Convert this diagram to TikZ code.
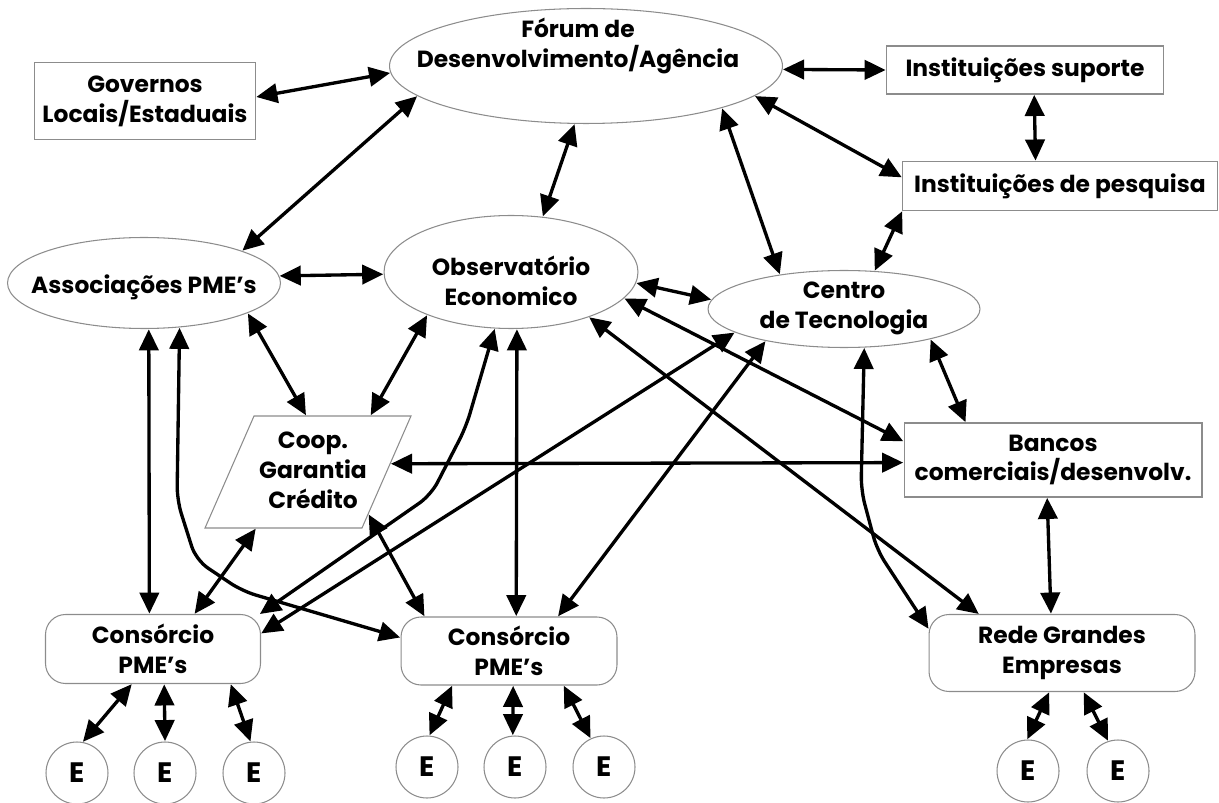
\documentclass[tikz,border=0pt]{standalone}
\usepackage{fontspec}
\setmainfont{Poppins}
\usetikzlibrary{arrows.meta}
\usetikzlibrary{shapes.geometric}
\usetikzlibrary{positioning}

\tikzset{
  box/.style={draw=black!45, line width=0.6pt, inner sep=0pt, outer sep=0pt, align=center},
  oval/.style={box, ellipse},
  rbox/.style={box, rounded corners=0.4cm},
  slanted/.style={box, xslant=0.4375},
  ent/.style={box, circle, minimum size=1.24cm, font=\fontsize{16}{18}\selectfont\bfseries},
  lbl/.style={align=center, inner sep=0pt},
  link/.style={line width=1.9pt, {Triangle[length=12pt,width=11pt]}-{Triangle[length=12pt,width=11pt]},
    shorten <=0.5pt, shorten >=0.5pt},
}

\begin{document}
\begin{tikzpicture}[x=0.02cm, y=-0.02cm, font=\fontsize{13.3}{17}\selectfont\bfseries]
  \useasboundingbox (0,0) rectangle (1219,803);

  % upper row
  \node[box, minimum width=4.42cm, minimum height=1.54cm] (gov) at (145,101) {Governos\\Locais/Estaduais};
  \node[oval, minimum width=7.86cm, minimum height=2.3cm] (forum) at (586,66) {};
  \node[lbl] (forumtxt) at (578,46) {Fórum de\\Desenvolvimento/Agência};
  \node[box, minimum width=5.54cm, minimum height=0.96cm] (sup) at (1025,70) {Instituições suporte};
  \node[box, minimum width=6.3cm, minimum height=0.98cm] (pesq) at (1060,186) {Instituições de pesquisa};

  % middle
  \node[oval, minimum width=5.46cm, minimum height=1.82cm] (assoc) at (144,283) {};
  \node[lbl] (assoctxt) at (144,287) {Associações PME’s};
  \node[oval, minimum width=5.08cm, minimum height=2.26cm] (obs) at (511,272) {};
  \node[lbl] (obstxt) at (511,281) {Observatório\\Economico};
  \node[oval, minimum width=5.44cm, minimum height=1.54cm] (centro) at (844,309) {};
  \node[lbl] (centrotxt) at (844,308) {Centro\\de Tecnologia};
  \begin{scope}[shift={(308,472)}]
    \node[slanted, minimum width=3.14cm, minimum height=2.24cm] (coop) at (0,0) {};
  \end{scope}
  \node[lbl] (cooptxt) at (313,470) {Coop.\\Garantia\\Crédito};
  \node[box, minimum width=5.96cm, minimum height=1.48cm] (bancos) at (1053,460) {Bancos\\comerciais/desenvolv.};

  % lower row
  \node[rbox, minimum width=4.3cm, minimum height=1.38cm] (cons1) at (153,649) {Consórcio\\PME’s};
  \node[rbox, minimum width=4.32cm, minimum height=1.36cm] (cons2) at (509,651) {Consórcio\\PME’s};
  \node[rbox, minimum width=5.32cm, minimum height=1.54cm] (rede) at (1062,653) {Rede Grandes\\Empresas};
  \node[ent] (e1) at (77,773) {E};
  \node[ent] (e2) at (165,773) {E};
  \node[ent] (e3) at (254,773) {E};
  \node[ent] (e4) at (427,767) {E};
  \node[ent] (e5) at (515,767) {E};
  \node[ent] (e6) at (604,767) {E};
  \node[ent] (e7) at (1028,771) {E};
  \node[ent] (e8) at (1118,771) {E};

  % connectors
  \draw[link] (gov.2) -- (forum.182);
  \draw[link] (forum.-1) -- (sup.180);
  \draw[link] (sup.291) -- (pesq.135);
  \draw[link] (forum.350) -- (pesq.177);
  \draw[link] (forum.343) -- (centro.152);
  \draw[link] (pesq.south west) -- (centro.51);
  \draw[link] (forum.259) -- (obs.60);
  \draw[link] (forum.190) -- (assoc.18);
  \draw[link] (assoc.3) -- (obs.181);
  \draw[link] (obs.355) -- (centro.176);
  \draw[link] (assoc.344) -- (coop.115);
  \draw[link] (obs.207) -- (coop.56);
  \draw[link] (assoc.276) -- (cons1.96);
  \draw[link, rounded corners=8pt] (assoc.309) -- (177,500) -- (196,560) -- (242,591) -- (cons2.173);
  \draw[link] (coop.244) -- (cons1.40);
  \draw[link] (coop.332) -- (cons2.158);
  \draw[link] (coop.6) -- (bancos.181);
  \draw[link] (obs.276) -- (cons2.78);
  \draw[link, rounded corners=8pt] (obs.254) -- (466,427) -- (431,495) -- (cons1.18);
  \draw[link] (centro.192) -- (cons1.8);
  \draw[link] (centro.202) -- (cons2.35);
  \draw[link] (obs.330) -- (rede.155);
  \draw[link] (obs.347) -- (bancos.173);
  \draw[link, rounded corners=8pt] (centro.298) -- (861,490) -- (877,550) -- (rede.170);
  \draw[link] (centro.341) -- (bancos.157);
  \draw[link] (bancos.261) -- (rede.106);

  \draw[link] (cons1.239) -- (e1.80);
  \draw[link] (cons1.288) -- (e2.90);
  \draw[link] (cons1.336) -- (e3.96);
  \draw[link] (cons2.211) -- (e4.86);
  \draw[link] (cons2.277) -- (e5.94);
  \draw[link] (cons2.328) -- (e6.115);
  \draw[link] (rede.252) -- (e7.92);
  \draw[link] (rede.299) -- (e8.108);
\end{tikzpicture}
\end{document}
